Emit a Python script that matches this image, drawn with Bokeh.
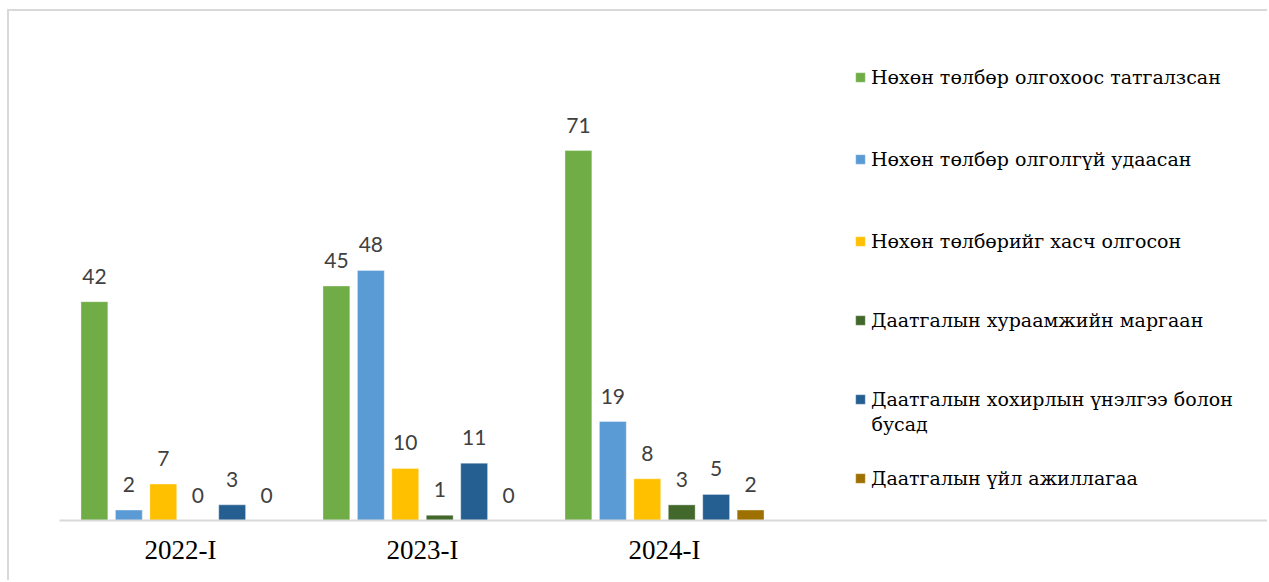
from bokeh.plotting import figure
from bokeh.models import FactorRange, Range1d, Legend, LegendItem, LabelSet, Label, ColumnDataSource
from bokeh.transform import dodge
from bokeh.core.properties import value
from bokeh.embed import file_html
from bokeh.resources import INLINE

categories = ["2022-I", "2023-I", "2024-I"]
series_names = [
    "Нөхөн төлбөр олгохоос татгалзсан",
    "Нөхөн төлбөр олголгүй удаасан",
    "Нөхөн төлбөрийг хасч олгосон",
    "Даатгалын хураамжийн маргаан",
    "Даатгалын хохирлын үнэлгээ болон",
    "Даатгалын үйл ажиллагаа",
]
legend_wrap_line = "бусад"   # second line of the 5th legend entry
v_refused = [42, 45, 71]
v_delayed = [2, 48, 19]
v_reduced = [7, 10, 8]
v_premium = [0, 1, 3]
v_assess = [3, 11, 5]
v_activity = [0, 0, 2]
series_values = [v_refused, v_delayed, v_reduced, v_premium, v_assess, v_activity]
colors = ["#70AD47", "#5B9BD5", "#FFC000", "#43682B", "#255E91", "#9E7000"]

AXIS_FONT = "Liberation Serif"
LEGEND_FONT = "DejaVu Serif"   # serif face with Cyrillic (incl. ө, ү)

# two empty slots on the right, as in the original chart
factors = categories + [" ", "  "]

p = figure(
    width=1260, height=571,
    x_range=FactorRange(*factors, range_padding=0),
    y_range=Range1d(0, 96.35),
    output_backend="svg", toolbar_location=None,
    min_border_left=50, min_border_right=0, min_border_top=7, min_border_bottom=62,
    styles={"margin-left": "7px", "margin-top": "9px",
            "border-left": "2px solid #d9d9d9", "border-top": "2px solid #d9d9d9"},
)
p.x_range.factor_padding = 0
p.x_range.group_padding = 0

p.xgrid.visible = False
p.ygrid.visible = False
p.yaxis.visible = False
p.outline_line_color = None

xa = p.xaxis[0]
xa.axis_line_color = "#d9d9d9"
xa.axis_line_width = 2
xa.major_tick_line_color = None
xa.minor_tick_line_color = None
xa.major_label_text_font = AXIS_FONT
xa.major_label_text_font_size = "27px"
xa.major_label_text_color = "#000000"
xa.major_label_standoff = 8

slot = 0.1423
bw = 0.111
renderers = []
for i, (name, vals, col) in enumerate(zip(series_names, series_values, colors)):
    src = ColumnDataSource(dict(cat=categories, val=vals, lab=[str(v) for v in vals]))
    off = (i - 2.5) * slot
    r = p.vbar(x=dodge("cat", off, range=p.x_range), top="val", width=bw, source=src,
               fill_color=col, line_color="white", line_alpha=0.35, line_width=1)
    renderers.append(r)
    ls = LabelSet(x=dodge("cat", off, range=p.x_range), y="val", text="lab", source=src,
                  text_align="center", text_baseline="alphabetic", y_offset=18,
                  text_font=value("Lato"), text_font_size="21px", text_color="#404040")
    p.add_layout(ls)

# legend, one block per row to reproduce the original spacing
row_centers = [75, 157, 239, 318, 397, 476]
frame_bottom = 520
frame_left = 59
for name, r, yc in zip(series_names, renderers, row_centers):
    leg = Legend(items=[LegendItem(label=name, renderers=[r])],
                 location=(854 - frame_left, frame_bottom - yc - 13),
                 padding=0, margin=0, spacing=0,
                 glyph_width=12, glyph_height=12, label_standoff=5,
                 label_height=12,
                 label_text_font=LEGEND_FONT, label_text_font_size="19px",
                 label_text_color="#000000",
                 border_line_color=None, background_fill_alpha=0)
    p.add_layout(leg)

p.add_layout(Label(x=871 - frame_left, y=frame_bottom - 423, x_units="screen", y_units="screen",
                   text=legend_wrap_line, text_align="left", text_baseline="middle",
                   text_font=LEGEND_FONT, text_font_size="19px", text_color="#000000"))

open("out.html", "w").write(file_html(p, INLINE))
